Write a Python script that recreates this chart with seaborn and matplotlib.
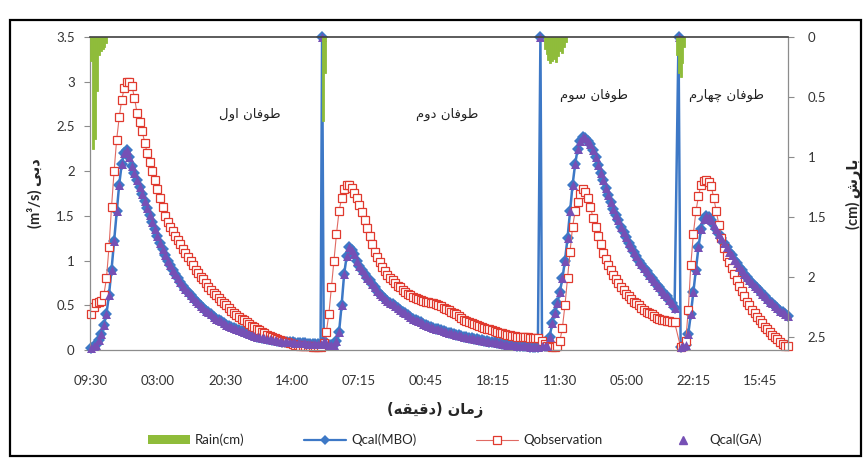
import numpy as np
import pandas as pd
import matplotlib
matplotlib.use("Agg")
import matplotlib.pyplot as plt
import seaborn as sns
from matplotlib.lines import Line2D
from matplotlib.patches import Patch, Rectangle

# ----- Data -----
# time in minutes from the start of the record, one sample every 40 min
step_min = 40
storm_start = [0, 3650, 7075, 9250]
separator_t = [3624, 7050, 9217]   # storm breaks, drawn as a 3.5 spike in the Qcal series
separator_q = 3.5

mbo_1 = [0.02, 0.04, 0.06, 0.11, 0.18, 0.28, 0.40, 0.62, 0.90, 1.22, 1.55, 1.85, 2.08, 2.20, 2.24,
         2.16, 2.06, 1.98, 1.90, 1.82, 1.75, 1.67, 1.59, 1.51, 1.43, 1.35, 1.27, 1.20, 1.13, 1.06,
         1.00, 0.95, 0.90, 0.85, 0.80, 0.76, 0.72, 0.68, 0.65, 0.61, 0.58, 0.55, 0.52, 0.49, 0.47,
         0.44, 0.42, 0.40, 0.37, 0.35, 0.34, 0.32, 0.30, 0.28, 0.27, 0.26, 0.25, 0.23, 0.22, 0.21,
         0.20, 0.19, 0.18, 0.17, 0.16, 0.15, 0.14, 0.135, 0.13, 0.125, 0.12, 0.115, 0.11, 0.105, 0.10,
         0.095, 0.09, 0.09, 0.09, 0.085, 0.08, 0.08, 0.08, 0.075, 0.075, 0.07, 0.07, 0.07, 0.07, 0.07,
         0.07]
mbo_2 = [0.10, 0.08, 0.06, 0.06, 0.06, 0.10, 0.20, 0.50, 0.85, 1.05, 1.15, 1.12, 1.07, 1.00, 0.94,
         0.89, 0.85, 0.81, 0.78, 0.74, 0.70, 0.66, 0.63, 0.60, 0.57, 0.55, 0.53, 0.51, 0.49, 0.47,
         0.45, 0.43, 0.41, 0.39, 0.37, 0.35, 0.34, 0.32, 0.31, 0.29, 0.28, 0.27, 0.26, 0.25, 0.24,
         0.23, 0.22, 0.21, 0.20, 0.195, 0.19, 0.18, 0.17, 0.165, 0.16, 0.15, 0.14, 0.135, 0.13, 0.125,
         0.12, 0.115, 0.11, 0.105, 0.10, 0.095, 0.09, 0.085, 0.08, 0.075, 0.07, 0.065, 0.06, 0.06, 0.06,
         0.055, 0.05, 0.05, 0.05, 0.045, 0.04, 0.035, 0.03, 0.03, 0.03]
mbo_3 = [0.04, 0.04, 0.05, 0.15, 0.30, 0.41, 0.52, 0.65, 0.80, 1.00, 1.25, 1.55, 1.85, 2.08, 2.25,
         2.34, 2.38, 2.37, 2.34, 2.30, 2.24, 2.16, 2.07, 1.98, 1.90, 1.81, 1.73, 1.65, 1.58, 1.51,
         1.45, 1.38, 1.32, 1.26, 1.20, 1.15, 1.10, 1.05, 1.00, 0.96, 0.92, 0.88, 0.84, 0.80, 0.77,
         0.73, 0.70, 0.66, 0.63, 0.60, 0.56, 0.52, 0.47]
mbo_4 = [0.03, 0.04, 0.06, 0.18, 0.40, 0.65, 0.90, 1.15, 1.35, 1.46, 1.50, 1.49, 1.45, 1.40, 1.35,
         1.30, 1.25, 1.20, 1.15, 1.10, 1.06, 1.01, 0.97, 0.93, 0.89, 0.85, 0.82, 0.78, 0.75, 0.72,
         0.69, 0.66, 0.63, 0.60, 0.57, 0.54, 0.52, 0.49, 0.47, 0.44, 0.42, 0.40, 0.38]

obs_1 = [0.40, 0.48, 0.52, 0.54, 0.55, 0.62, 0.80, 1.15, 1.60, 2.00, 2.35, 2.60, 2.80, 2.93, 3.00,
         3.00, 2.95, 2.82, 2.65, 2.55, 2.45, 2.32, 2.20, 2.10, 2.00, 1.90, 1.80, 1.70, 1.60, 1.50,
         1.43, 1.38, 1.33, 1.28, 1.23, 1.18, 1.13, 1.08, 1.04, 0.99, 0.95, 0.90, 0.86, 0.82, 0.79,
         0.75, 0.71, 0.67, 0.64, 0.61, 0.58, 0.55, 0.53, 0.50, 0.47, 0.44, 0.41, 0.39, 0.37, 0.35,
         0.33, 0.31, 0.29, 0.27, 0.26, 0.24, 0.22, 0.20, 0.19, 0.17, 0.16, 0.14, 0.13, 0.12, 0.11,
         0.10, 0.09, 0.085, 0.08, 0.07, 0.06, 0.055, 0.05, 0.045, 0.04, 0.04, 0.04, 0.035, 0.03, 0.03,
         0.03]
obs_2 = [0.08, 0.20, 0.40, 0.70, 1.00, 1.30, 1.55, 1.70, 1.80, 1.84, 1.85, 1.81, 1.76, 1.70, 1.62,
         1.54, 1.45, 1.36, 1.27, 1.18, 1.10, 1.04, 0.98, 0.93, 0.88, 0.84, 0.81, 0.78, 0.75, 0.72,
         0.70, 0.67, 0.65, 0.63, 0.61, 0.59, 0.58, 0.57, 0.56, 0.55, 0.54, 0.535, 0.53, 0.52, 0.51,
         0.50, 0.49, 0.475, 0.46, 0.445, 0.43, 0.415, 0.40, 0.38, 0.36, 0.34, 0.32, 0.31, 0.30, 0.29,
         0.28, 0.27, 0.26, 0.25, 0.24, 0.23, 0.22, 0.21, 0.20, 0.195, 0.19, 0.18, 0.17, 0.165, 0.16,
         0.155, 0.15, 0.15, 0.15, 0.145, 0.14, 0.135, 0.13, 0.13, 0.13]
obs_3 = [0.10, 0.07, 0.05, 0.04, 0.03, 0.03, 0.04, 0.10, 0.25, 0.50, 0.80, 1.10, 1.38, 1.55, 1.66,
         1.75, 1.80, 1.77, 1.70, 1.60, 1.48, 1.37, 1.27, 1.18, 1.09, 1.02, 0.95, 0.89, 0.84, 0.79,
         0.75, 0.71, 0.67, 0.63, 0.60, 0.57, 0.54, 0.52, 0.50, 0.47, 0.45, 0.43, 0.41, 0.40, 0.38,
         0.36, 0.35, 0.34, 0.33, 0.325, 0.32, 0.315, 0.31]
obs_4 = [0.03, 0.05, 0.10, 0.45, 0.95, 1.30, 1.55, 1.72, 1.85, 1.89, 1.90, 1.88, 1.83, 1.70, 1.55,
         1.40, 1.25, 1.14, 1.05, 0.98, 0.92, 0.85, 0.78, 0.72, 0.66, 0.60, 0.54, 0.50, 0.45, 0.41,
         0.37, 0.33, 0.30, 0.26, 0.23, 0.20, 0.17, 0.14, 0.12, 0.09, 0.07, 0.05, 0.04]

# Qcal(GA) sits on top of Qcal(MBO) everywhere in the chart
ga_1, ga_2, ga_3, ga_4 = mbo_1, mbo_2, mbo_3, mbo_4

# rain, one value every 30 min
rain_step = 30
rain_start = [0, 3640, 7115, 9190]
rain_1 = [0.20, 0.93, 0.85, 0.45, 0.15, 0.12, 0.10, 0.08, 0.05]
rain_2 = [0.70, 0.30]
rain_3 = [0.10, 0.14, 0.19, 0.22, 0.20, 0.18, 0.21, 0.16, 0.12, 0.13, 0.08, 0.04]
rain_4 = [0.15, 0.30, 0.33, 0.22, 0.08]

tick_every = 1050
tick_labels = ["09:30", "03:00", "20:30", "14:00", "07:15", "00:45",
               "18:15", "11:30", "05:00", "22:15", "15:45"]

storm_names = ["طوفان اول", "طوفان دوم", "طوفان سوم", "طوفان چهارم"]

# ----- minimal Persian shaping (matplotlib has no bidi / joining) -----
FORMS = {
    "ا": "\uFE8D\uFE8E", "ب": "\uFE8F\uFE90\uFE91\uFE92", "د": "\uFEA9\uFEAA",
    "ر": "\uFEAD\uFEAE", "ز": "\uFEAF\uFEB0", "س": "\uFEB1\uFEB2\uFEB3\uFEB4",
    "ش": "\uFEB5\uFEB6\uFEB7\uFEB8", "ط": "\uFEC1\uFEC2\uFEC3\uFEC4",
    "ف": "\uFED1\uFED2\uFED3\uFED4", "ق": "\uFED5\uFED6\uFED7\uFED8",
    "ل": "\uFEDD\uFEDE\uFEDF\uFEE0", "م": "\uFEE1\uFEE2\uFEE3\uFEE4",
    "ن": "\uFEE5\uFEE6\uFEE7\uFEE8", "ه": "\uFEE9\uFEEA\uFEEB\uFEEC",
    "و": "\uFEED\uFEEE", "\u06CC": "\uFBFC\uFBFD\uFBFE\uFBFF",
    "\u064A": "\uFEF1\uFEF2\uFEF3\uFEF4", "چ": "\uFB7A\uFB7B\uFB7C\uFB7D",
}


def fa(text):
    out = []
    for i, ch in enumerate(text):
        forms = FORMS.get(ch)
        if forms is None:
            out.append({"(": ")", ")": "("}.get(ch, ch))
            continue
        prev = text[i - 1] if i else ""
        nxt = text[i + 1] if i + 1 < len(text) else ""
        a = prev in FORMS and len(FORMS[prev]) == 4
        b = len(forms) == 4 and nxt in FORMS
        out.append(forms[3 if a and b else 1 if a else 2 if b else 0])
    return "".join(reversed(out))


# ----- Tables -----
rows = []
for s, (m, o, g) in enumerate(zip([mbo_1, mbo_2, mbo_3, mbo_4],
                                  [obs_1, obs_2, obs_3, obs_4],
                                  [ga_1, ga_2, ga_3, ga_4])):
    t = storm_start[s] + step_min * np.arange(len(m))
    rows.append(pd.DataFrame({"t": t, "mbo": m, "obs": o, "ga": g}))
q_df = pd.concat(rows, ignore_index=True)
sep_df = pd.DataFrame({"t": separator_t, "mbo": separator_q, "ga": separator_q})
calc_df = pd.concat([q_df[["t", "mbo", "ga"]], sep_df]).sort_values("t")

rain_df = pd.concat([pd.DataFrame({"t": rain_start[s] + rain_step * np.arange(len(r)), "rain": r})
                     for s, r in enumerate([rain_1, rain_2, rain_3, rain_4])], ignore_index=True)

# ----- Plot -----
sns.set_style("white")
plt.rcParams["font.family"] = ["Lato", "DejaVu Sans"]

blue = "#3d78c6"
red = "#e0392e"
purple = "#7650b5"
green = "#8fbc3a"
axis_grey = "#8c8c8c"

fig = plt.figure(figsize=(8.68, 4.58), dpi=100)
ax = fig.add_axes([90 / 868, 108 / 458, 698 / 868, 313 / 458])
ax2 = ax.twinx()

sns.barplot(data=rain_df, x="t", y="rain", native_scale=True, color=green, saturation=1,
            width=1, errorbar=None, linewidth=0.6, edgecolor=green, ax=ax2)

sns.lineplot(data=calc_df, x="t", y="mbo", ax=ax, color=blue, linewidth=1.8, marker="D",
             markersize=6.2, markeredgewidth=0, estimator=None, clip_on=False)
sns.lineplot(data=q_df, x="t", y="obs", ax=ax, color="#e06a63", linewidth=0.8, marker="s",
             markersize=5.8, markerfacecolor="white", markeredgecolor=red,
             markeredgewidth=0.9, estimator=None, clip_on=False)
sns.scatterplot(data=calc_df, x="t", y="ga", ax=ax, marker="^", s=42, color=purple,
                linewidth=0, clip_on=False, zorder=3)

ax.set_xlim(-18, 10935)
ax.set_ylim(0, 3.5)
ax2.set_xlim(-18, 10935)
ax2.set_ylim(2.608, 0)

ax.set_yticks(np.arange(0, 3.51, 0.5))
ax.set_yticklabels(["0", "0.5", "1", "1.5", "2", "2.5", "3", "3.5"])
ax2.set_yticks(np.arange(0, 2.51, 0.5))
ax2.set_yticklabels(["0", "0.5", "1", "1.5", "2", "2.5"])
ax.set_xticks(tick_every * np.arange(len(tick_labels)))
ax.set_xticklabels(tick_labels)

ax.tick_params(axis="x", length=0, pad=18, labelsize=9.5, labelcolor="#333333")
ax.tick_params(axis="y", direction="out", length=4, width=0.8, color=axis_grey, pad=7,
               labelsize=9.5, labelcolor="#333333", left=True)
ax2.tick_params(axis="y", direction="out", length=4, width=0.8, color=axis_grey, pad=10,
                labelsize=9.5, labelcolor="#333333", right=True)
ax2.tick_params(axis="x", bottom=False, top=False, labelbottom=False, labeltop=False)

for a in (ax, ax2):
    for side in ("left", "right", "bottom", "top"):
        a.spines[side].set_visible(False)
ax.spines["left"].set_visible(True)
ax.spines["bottom"].set_visible(True)
ax2.spines["right"].set_visible(True)
ax2.spines["top"].set_visible(True)
for sp in (ax.spines["left"], ax.spines["bottom"], ax2.spines["right"]):
    sp.set_color(axis_grey)
    sp.set_linewidth(0.9)
ax2.spines["top"].set_color("#404040")
ax2.spines["top"].set_linewidth(1.2)

ax.set_xlabel("")
ax2.set_xlabel("")
ax.set_ylabel("(m³/s) " + fa("دبی"), fontsize=10.5, fontweight="bold",
              family=["Lato", "DejaVu Sans"], labelpad=10)
ax2.set_ylabel("(cm) " + fa("بارش"), fontsize=10.5, fontweight="bold",
               family=["Lato", "DejaVu Sans"], rotation=90, labelpad=14)
fig.text(435 / 868, 1 - 410 / 458, fa("زمان (دقیقه)"), ha="center", va="center",
         fontsize=10.5, fontweight="bold", family=["DejaVu Sans"])

# storm labels
label_pos = [(2491, 2.63), (5594, 2.63), (7898, 2.85), (9966, 2.85)]
for (tx, ty), name in zip(label_pos, storm_names):
    ax.text(tx, ty, fa(name), ha="center", va="center", fontsize=9.5,
            family=["DejaVu Sans"], color="#222222")

# legend
handles = [
    Patch(facecolor=green, edgecolor="none"),
    Line2D([], [], color=blue, lw=1.6, marker="D", markersize=5.0, markeredgewidth=0),
    Line2D([], [], color="#e06a63", lw=0.8, marker="s", markersize=5.4,
           markerfacecolor="white", markeredgecolor=red, markeredgewidth=0.9),
    Line2D([], [], color=purple, lw=0, marker="^", markersize=5.5),
]
fig.legend(handles, ["Rain(cm)", "Qcal(MBO)", "Qobservation", "Qcal(GA)"],
           loc="center", bbox_to_anchor=(455 / 868, 1 - 440 / 458), ncol=4, frameon=False,
           fontsize=9.5, handlelength=3.2, handleheight=0.6, columnspacing=4.5,
           handletextpad=0.4)

# outer chart frame
fig.patches.append(Rectangle((10 / 868, 2 / 458), 851 / 868, 436 / 458, transform=fig.transFigure,
                             fill=False, edgecolor="black", linewidth=1.6))

fig.savefig("out.png", dpi=100)
